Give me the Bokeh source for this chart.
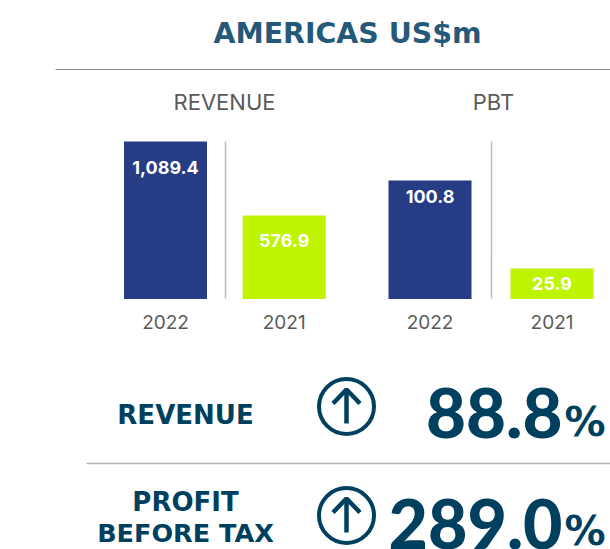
from bokeh.plotting import figure
from bokeh.models import Range1d
from bokeh.core.properties import value
from bokeh.embed import file_html
from bokeh.resources import INLINE

title = "AMERICAS US$m"
years = ["2022", "2021"]
revenue = [1089.4, 576.9]
pbt = [100.8, 25.9]
revenue_labels = ["1,089.4", "576.9"]
pbt_labels = ["100.8", "25.9"]
bar_colors = ["#263c85", "#bef400"]
revenue_change = "88.8"
pbt_change = "289.0"

W, H = 610, 549
L, T = 0, 0
INTER = "Inter"
WIDE = "DejaVu Sans"
HEAVY = "Lato Black"
DARK = "#00405f"
GREY = "#5a5a5a"

p = figure(width=W, height=H, output_backend="svg", toolbar_location=None,
           x_range=Range1d(L, L + W), y_range=Range1d(T + H, T),
           x_axis_type=None, y_axis_type=None, min_border=0,
           outline_line_color=None, background_fill_color="white")
p.grid.visible = False


def linear(name_x, name_y, x0, dx, base, px_per_unit):
    p.extra_x_ranges[name_x] = Range1d((L - x0) / dx, (L + W - x0) / dx)
    p.extra_y_ranges[name_y] = Range1d((base - (T + H)) / px_per_unit, (base - T) / px_per_unit)


linear("rx", "ry", 165.0, 118.7, 298.5, 157.5 / revenue[0])
linear("px", "py", 429.5, 122.0, 298.5, 118.5 / pbt[0])

p.vbar(x=[0, 1], top=revenue, bottom=0, width=83 / 118.7, color=bar_colors,
       line_color=None, x_range_name="rx", y_range_name="ry")
p.vbar(x=[0, 1], top=pbt, bottom=0, width=83 / 122.0, color=bar_colors,
       line_color=None, x_range_name="px", y_range_name="py")


def txt(x, y, s, size, color, style="bold", align="center", font=INTER, **kw):
    p.text(x=x if isinstance(x, list) else [x], y=y if isinstance(y, list) else [y],
           text=s if isinstance(s, list) else [s],
           text_font=value(font), text_font_size=f"{size}px", text_font_style=style,
           text_color=color, text_align=align, text_baseline="middle", **kw)


# rules
p.line([55, 610], [69, 69], line_color="#8c8c8c", line_width=1)
p.line([86, 610], [463, 463], line_color="#b5b5b5", line_width=1.5)
p.line([225, 225], [141, 298], line_color="#bdbdbd", line_width=1.5)
p.line([491, 491], [141, 298], line_color="#bdbdbd", line_width=1.5)

txt(347, 33, title, 28.4, "#25597a", font=WIDE)
txt(224, 101, "REVENUE", 22, GREY, "normal")
txt(493, 101, "PBT", 22, GREY, "normal")

txt([0, 1], [167, 240], revenue_labels, 18, "white", x_range_name="rx")
txt([0, 1], [196, 283], pbt_labels, 18, "white", x_range_name="px")
txt([0, 1], [321, 321], years, 19, GREY, "normal", x_range_name="rx")
txt([0, 1], [321, 321], years, 19, GREY, "normal", x_range_name="px")

txt(185, 414, "REVENUE", 26, DARK, font=WIDE)
txt(185, 501, "PROFIT", 26, DARK, font=WIDE)
txt(185, 532, "BEFORE TAX", 25.5, DARK, font=WIDE)

txt(562, 412, revenue_change, 69, DARK, "normal", align="right", font=HEAVY)
txt(605, 421, "%", 41, DARK, align="right", font=WIDE)
txt(562, 523, pbt_change, 68, DARK, "normal", align="right", font=HEAVY)
txt(605, 530, "%", 41, DARK, align="right", font=WIDE)

for cy in (406, 515):
    p.scatter([346], [cy], marker="circle", size=55, fill_color=None,
              line_color=DARK, line_width=4)
    p.line([346, 346], [cy - 17, cy + 17], line_color=DARK, line_width=4.5)
    p.line([332.5, 346, 359.5], [cy - 3, cy - 17, cy - 3], line_color=DARK, line_width=4.5)

open("out.html", "w").write(file_html(p, INLINE))
